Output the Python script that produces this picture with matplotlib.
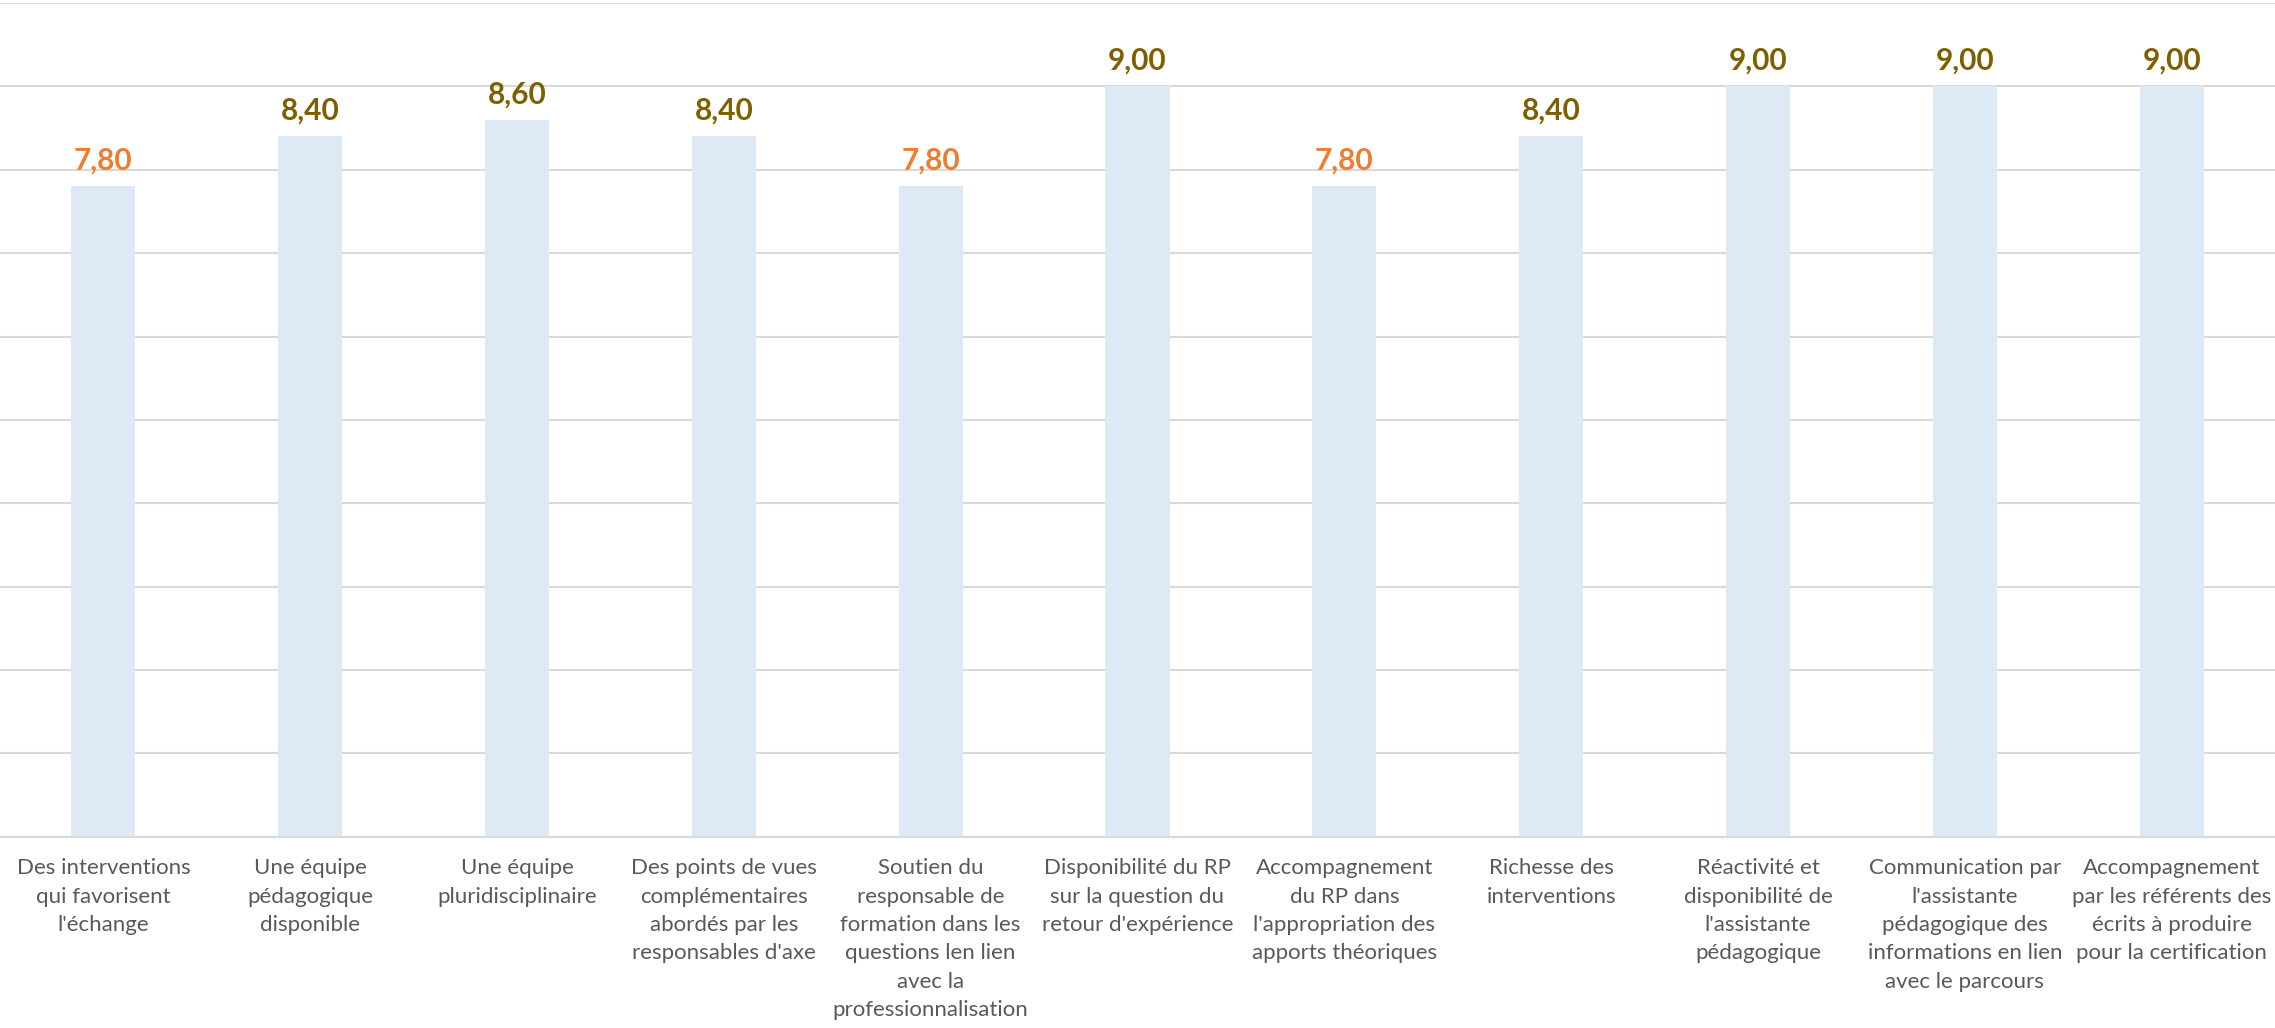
import matplotlib.pyplot as plt

plt.rcParams["font.family"] = ["Lato", "DejaVu Sans"]

LABELS = [
    "Des interventions\nqui favorisent\nl'échange",
    "Une équipe\npédagogique\ndisponible",
    "Une équipe\npluridisciplinaire",
    "Des points de vues\ncomplémentaires\nabordés par les\nresponsables d'axe",
    "Soutien du\nresponsable de\nformation dans les\nquestions len lien\navec la\nprofessionnalisation",
    "Disponibilité du RP\nsur la question du\nretour d'expérience",
    "Accompagnement\ndu RP dans\nl'appropriation des\napports théoriques",
    "Richesse des\ninterventions",
    "Réactivité et\ndisponibilité de\nl'assistante\npédagogique",
    "Communication par\nl'assistante\npédagogique des\ninformations en lien\navec le parcours",
    "Accompagnement\npar les référents des\nécrits à produire\npour la certification",
]
SCORES = [7.8, 8.4, 8.6, 8.4, 7.8, 9.0, 7.8, 8.4, 9.0, 9.0, 9.0]

BAR = "#DDEAF6"
LOW = "#ED7D31"   # scores under 8
HIGH = "#7F6000"

fig = plt.figure(figsize=(22.75, 10.28), dpi=100)
ax = fig.add_axes([0, 0.186, 1, 0.811])

x = range(len(SCORES))
ax.bar(x, SCORES, width=0.31, color=BAR, zorder=2)
for i, v in zip(x, SCORES):
    ax.annotate(f"{v:.2f}".replace(".", ","), (i, v), xytext=(0, 12),
                textcoords="offset points", ha="center", va="baseline",
                fontsize=21.5, fontweight="bold", color=LOW if v < 8 else HIGH)

ax.set_xlim(-0.5, len(SCORES) - 0.5)
ax.set_ylim(0, 10)
ax.set_yticks(range(0, 11))
ax.yaxis.grid(True, color="#D9D9D9", linewidth=1.5, zorder=0)
ax.tick_params(axis="y", left=False, labelleft=False)
ax.tick_params(axis="x", bottom=False, pad=12)
ax.set_xticks(list(x))
ax.set_xticklabels(LABELS, fontsize=16, color="#595959", linespacing=1.52, va="top")
for s in ["top", "left", "right"]:
    ax.spines[s].set_visible(False)
ax.spines["bottom"].set_color("#D9D9D9")
ax.spines["bottom"].set_linewidth(1.5)

fig.savefig("out.png", dpi=100)
